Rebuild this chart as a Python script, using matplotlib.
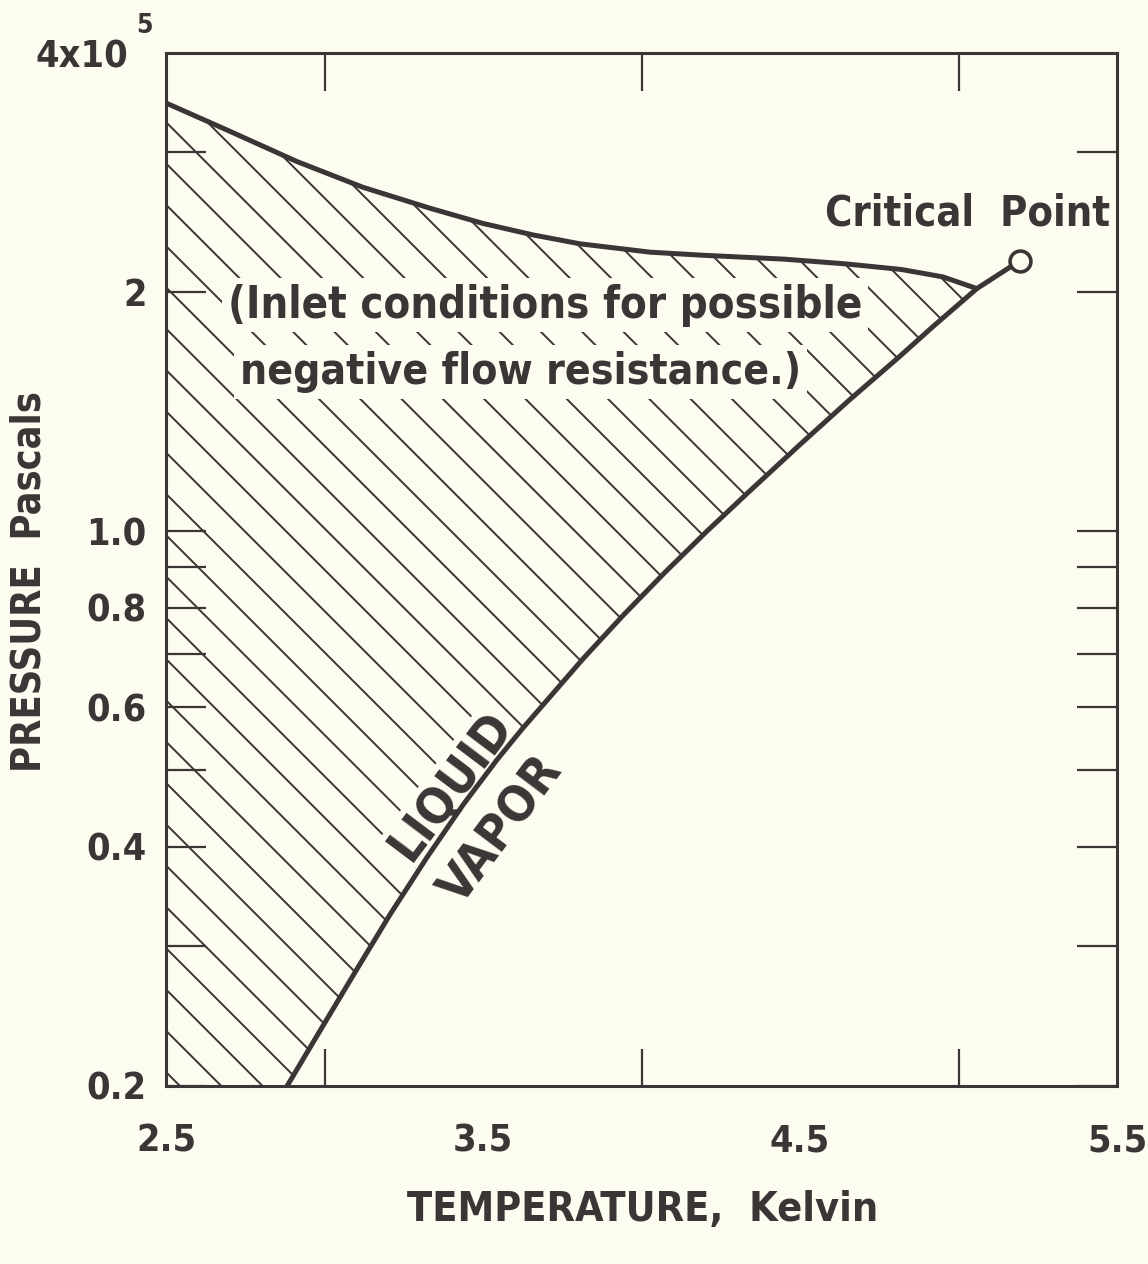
import matplotlib
matplotlib.use("Agg")
import matplotlib.pyplot as plt
import numpy as np
from matplotlib import font_manager as fm
from matplotlib.patches import Polygon
from matplotlib.ticker import FixedLocator, NullFormatter

# saturation (liquid/vapor) curve, pressure in units of 1e5 Pa
vapor_T = [2.882, 2.992, 3.103, 3.207, 3.323, 3.437, 3.544, 3.623, 3.815,
           3.942, 4.074, 4.207, 4.333, 4.500, 4.658, 4.815, 4.920, 5.058, 5.194]
vapor_P = [0.200, 0.237, 0.281, 0.329, 0.388, 0.452, 0.515, 0.563, 0.690,
           0.783, 0.887, 1.000, 1.115, 1.285, 1.465, 1.660, 1.810, 2.020, 2.190]

# upper boundary of the hatched region
upper_T = [2.50, 2.692, 2.913, 3.121, 3.333, 3.50, 3.658, 3.806, 4.027,
           4.194, 4.450, 4.644, 4.820, 4.950, 5.058]
upper_P = [3.46, 3.20, 2.92, 2.71, 2.55, 2.44, 2.36, 2.30, 2.245,
           2.225, 2.20, 2.17, 2.135, 2.09, 2.02]

critical_T = 5.194
critical_P = 2.19

x_labels = ["2.5", "3.5", "4.5", "5.5"]
x_label_pos = [2.5, 3.5, 4.5, 5.5]
x_tick_pos = [3.0, 3.5, 4.0, 4.5, 5.0]
y_labels = ["0.2", "0.4", "0.6", "0.8", "1.0", "2"]
y_label_pos = [0.2, 0.4, 0.6, 0.8, 1.0, 2.0]
y_tick_pos = [0.3, 0.5, 0.7, 0.9, 3.0]

BG = "#fcfcf0"
INK = "#3b3535"

# pick a narrow face if one is installed, the original lettering is condensed
fonts = fm.fontManager.ttflist
narrow = [f for f in fonts if "Narrow" in f.name or "Condensed" in f.name
          or f.stretch in ("condensed", "semi-condensed", "extra-condensed")]
if narrow:
    FACE, STRETCH = narrow[0].name, narrow[0].stretch
elif any(f.name == "Roboto" for f in fonts):
    FACE, STRETCH = "Roboto", "normal"
else:
    FACE, STRETCH = "DejaVu Sans", "normal"
FONT = [FACE, "DejaVu Sans"]

plt.rcParams["font.family"] = FONT
plt.rcParams["font.weight"] = "bold"
plt.rcParams["font.stretch"] = STRETCH

fig = plt.figure(figsize=(11.48, 12.64), dpi=100, facecolor=BG)
renderer = fig.canvas.get_renderer()


def fit_size(s, width_px):
    # font size that makes string s about width_px wide
    t = fig.text(0, 0, s, fontsize=30, fontweight="bold", family=FONT)
    w = t.get_window_extent(renderer).width
    t.remove()
    return 30 * width_px / w


left, bottom, right, top = 166, 1086, 1117, 53
ax = fig.add_axes([left / 1148, 1 - bottom / 1264, (right - left) / 1148, (bottom - top) / 1264])
ax.set_facecolor(BG)
ax.set_xlim(2.5, 5.5)
ax.set_yscale("log")
ax.set_ylim(0.2, 4.0)

for s in ax.spines.values():
    s.set_linewidth(2.2)
    s.set_color(INK)

tick_fs = fit_size("1.0", 60)

ax.xaxis.set_major_locator(FixedLocator(x_label_pos))
ax.set_xticklabels(x_labels)
ax.xaxis.set_minor_locator(FixedLocator(x_tick_pos))
ax.tick_params(axis="x", which="major", length=0, pad=27, labelsize=tick_fs, colors=INK)
ax.tick_params(axis="x", which="minor", direction="in", length=27, width=1.6,
               top=True, bottom=True, color=INK)

ax.yaxis.set_major_locator(FixedLocator(y_label_pos))
ax.set_yticklabels(y_labels)
ax.yaxis.set_minor_locator(FixedLocator(y_tick_pos))
ax.yaxis.set_minor_formatter(NullFormatter())
ax.tick_params(axis="y", which="both", direction="in", length=29, width=1.6,
               left=True, right=True, color=INK, labelcolor=INK)
ax.tick_params(axis="y", which="major", pad=14, labelsize=tick_fs)

# hatched region
region = Polygon(np.column_stack([upper_T + vapor_T[vapor_T.index(5.058)::-1] + [2.5],
                                  upper_P + vapor_P[vapor_P.index(2.020)::-1] + [0.2]]),
                 closed=True, facecolor="none", edgecolor="none")
ax.add_patch(region)

W, H = right - left, bottom - top
for c in np.arange(14, W + H, 41.3):
    ln, = ax.plot([c / W, (c - H) / W], [0, 1], transform=ax.transAxes,
                  color=INK, lw=1.4, zorder=1)
    ln.set_clip_path(region)

ax.plot(upper_T, upper_P, color=INK, lw=3.6, zorder=3, solid_capstyle="round")
ax.plot(vapor_T, vapor_P, color=INK, lw=3.6, zorder=3, solid_capstyle="round")
ax.plot([critical_T], [critical_P], marker="o", ms=15, mew=2.6,
        mfc=BG, mec=INK, zorder=4, clip_on=False)

txt = dict(color=INK, fontweight="bold", family=FONT)
box = dict(facecolor=BG, edgecolor="none", pad=4)
line1 = "(Inlet conditions for possible"
line2 = "negative flow resistance.)"
fig.text(228 / 1148, 1 - 305 / 1264, line1, fontsize=fit_size(line1, 635),
         ha="left", va="center", bbox=box, zorder=5, **txt)
fig.text(240 / 1148, 1 - 372 / 1264, line2, fontsize=fit_size(line2, 560),
         ha="left", va="center", bbox=box, zorder=5, **txt)
fig.text(968 / 1148, 1 - 213 / 1264, "Critical  Point",
         fontsize=fit_size("Critical  Point", 285), ha="center", va="center", **txt)

lab_fs = fit_size("LIQUID", 172)
ax.text(3.40, 0.478, "LIQUID", fontsize=lab_fs, rotation=53, ha="center", va="center",
        rotation_mode="anchor", bbox=dict(facecolor=BG, edgecolor="none", pad=1),
        zorder=2, **txt)
ax.text(3.56, 0.420, "VAPOR", fontsize=lab_fs, rotation=53, ha="center", va="center",
        rotation_mode="anchor", zorder=2, **txt)

fig.text(128 / 1148, 1 - 57 / 1264, "4x10", fontsize=tick_fs, ha="right", va="center", **txt)
fig.text(136 / 1148, 1 - 26 / 1264, "5", fontsize=tick_fs * 0.7, ha="left", va="center", **txt)
fig.text(30 / 1148, 1 - 582 / 1264, "PRESSURE  Pascals",
         fontsize=fit_size("PRESSURE  Pascals", 380), rotation=90,
         ha="center", va="center", **txt)
fig.text(643 / 1148, 1 - 1210 / 1264, "TEMPERATURE,  Kelvin",
         fontsize=fit_size("TEMPERATURE,  Kelvin", 470), ha="center", va="center", **txt)

fig.savefig("out.png", dpi=100, facecolor=BG)
